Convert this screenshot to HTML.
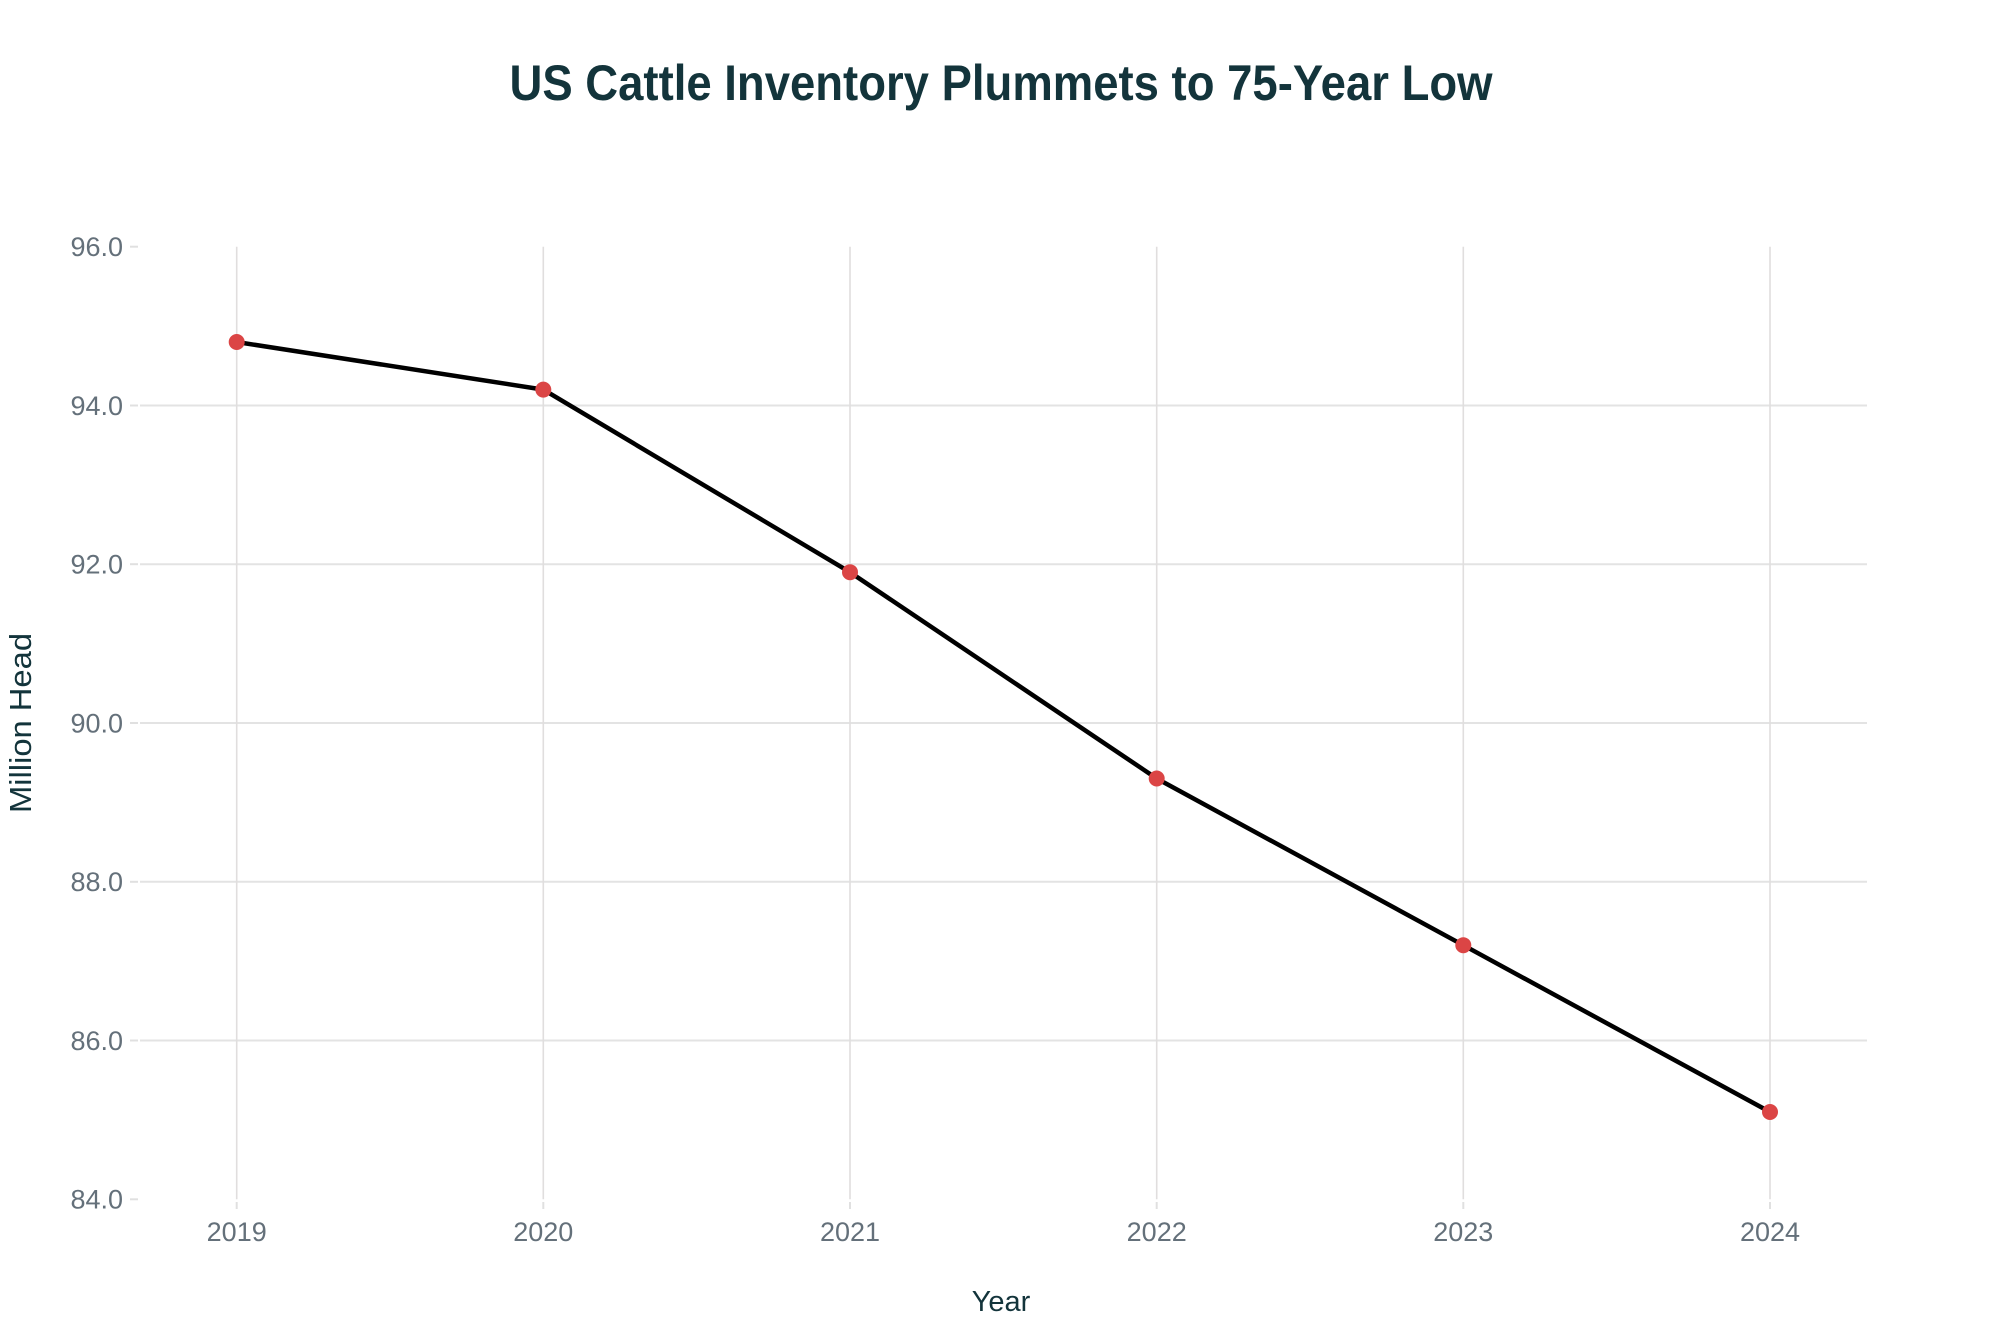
<!DOCTYPE html>
<html>
<head>
<meta charset="utf-8">
<style>
html,body{margin:0;padding:0;background:#fff;}
svg{display:block;}
</style>
</head>
<body>
<svg width="2000" height="1333" viewBox="0 0 2000 1333" xmlns="http://www.w3.org/2000/svg">
<rect width="2000" height="1333" fill="#ffffff"/>
<!-- title -->
<text x="1001" y="100" text-anchor="middle" font-family="Liberation Sans, sans-serif" font-weight="bold" font-size="50" fill="#13343B" textLength="983" lengthAdjust="spacingAndGlyphs">US Cattle Inventory Plummets to 75-Year Low</text>

<!-- horizontal gridlines -->
<g stroke="#e3e3e3" stroke-width="2">
<line x1="140" x2="1867" y1="405.5" y2="405.5"/>
<line x1="140" x2="1867" y1="564.2" y2="564.2"/>
<line x1="140" x2="1867" y1="723" y2="723"/>
<line x1="140" x2="1867" y1="881.8" y2="881.8"/>
<line x1="140" x2="1867" y1="1040.5" y2="1040.5"/>
</g>
<!-- vertical gridlines -->
<g stroke="#e0dede" stroke-width="1.6">
<line x1="236.7" x2="236.7" y1="246.7" y2="1199.3"/>
<line x1="543.3" x2="543.3" y1="246.7" y2="1199.3"/>
<line x1="850" x2="850" y1="246.7" y2="1199.3"/>
<line x1="1156.7" x2="1156.7" y1="246.7" y2="1199.3"/>
<line x1="1463.3" x2="1463.3" y1="246.7" y2="1199.3"/>
<line x1="1770" x2="1770" y1="246.7" y2="1199.3"/>
</g>
<!-- y ticks -->
<g stroke="#e0e0e0" stroke-width="2">
<line x1="130" x2="138" y1="246.7" y2="246.7"/>
<line x1="130" x2="138" y1="405.5" y2="405.5"/>
<line x1="130" x2="138" y1="564.2" y2="564.2"/>
<line x1="130" x2="138" y1="723" y2="723"/>
<line x1="130" x2="138" y1="881.8" y2="881.8"/>
<line x1="130" x2="138" y1="1040.5" y2="1040.5"/>
<line x1="130" x2="138" y1="1199.3" y2="1199.3"/>
</g>
<!-- x ticks -->
<g stroke="#e0e0e0" stroke-width="2">
<line x1="236.7" x2="236.7" y1="1202" y2="1209"/>
<line x1="543.3" x2="543.3" y1="1202" y2="1209"/>
<line x1="850" x2="850" y1="1202" y2="1209"/>
<line x1="1156.7" x2="1156.7" y1="1202" y2="1209"/>
<line x1="1463.3" x2="1463.3" y1="1202" y2="1209"/>
<line x1="1770" x2="1770" y1="1202" y2="1209"/>
</g>
<!-- y tick labels -->
<g font-family="Liberation Sans, sans-serif" font-size="27" fill="#64707A" text-anchor="end">
<text x="123" y="256">96.0</text>
<text x="123" y="414.8">94.0</text>
<text x="123" y="573.5">92.0</text>
<text x="123" y="732.3">90.0</text>
<text x="123" y="891.1">88.0</text>
<text x="123" y="1049.8">86.0</text>
<text x="123" y="1208.6">84.0</text>
</g>
<!-- x tick labels -->
<g font-family="Liberation Sans, sans-serif" font-size="27" fill="#64707A" text-anchor="middle">
<text x="236.7" y="1241">2019</text>
<text x="543.3" y="1241">2020</text>
<text x="850" y="1241">2021</text>
<text x="1156.7" y="1241">2022</text>
<text x="1463.3" y="1241">2023</text>
<text x="1770" y="1241">2024</text>
</g>
<!-- axis titles -->
<text x="1001" y="1311" text-anchor="middle" font-family="Liberation Sans, sans-serif" font-size="29" fill="#13343B">Year</text>
<text transform="translate(31,723) rotate(-90)" x="0" y="0" text-anchor="middle" font-family="Liberation Sans, sans-serif" font-size="31" fill="#13343B" textLength="180" lengthAdjust="spacingAndGlyphs">Million Head</text>

<!-- series -->
<polyline fill="none" stroke="#000000" stroke-width="4.5" stroke-linejoin="round" points="236.7,342 543.3,389.6 850,572.2 1156.7,778.5 1463.3,945.2 1770,1112"/>
<g fill="#DB4545">
<circle cx="236.7" cy="342" r="8"/>
<circle cx="543.3" cy="389.6" r="8"/>
<circle cx="850" cy="572.2" r="8"/>
<circle cx="1156.7" cy="778.5" r="8"/>
<circle cx="1463.3" cy="945.2" r="8"/>
<circle cx="1770" cy="1112" r="8"/>
</g>
</svg>
</body>
</html>
